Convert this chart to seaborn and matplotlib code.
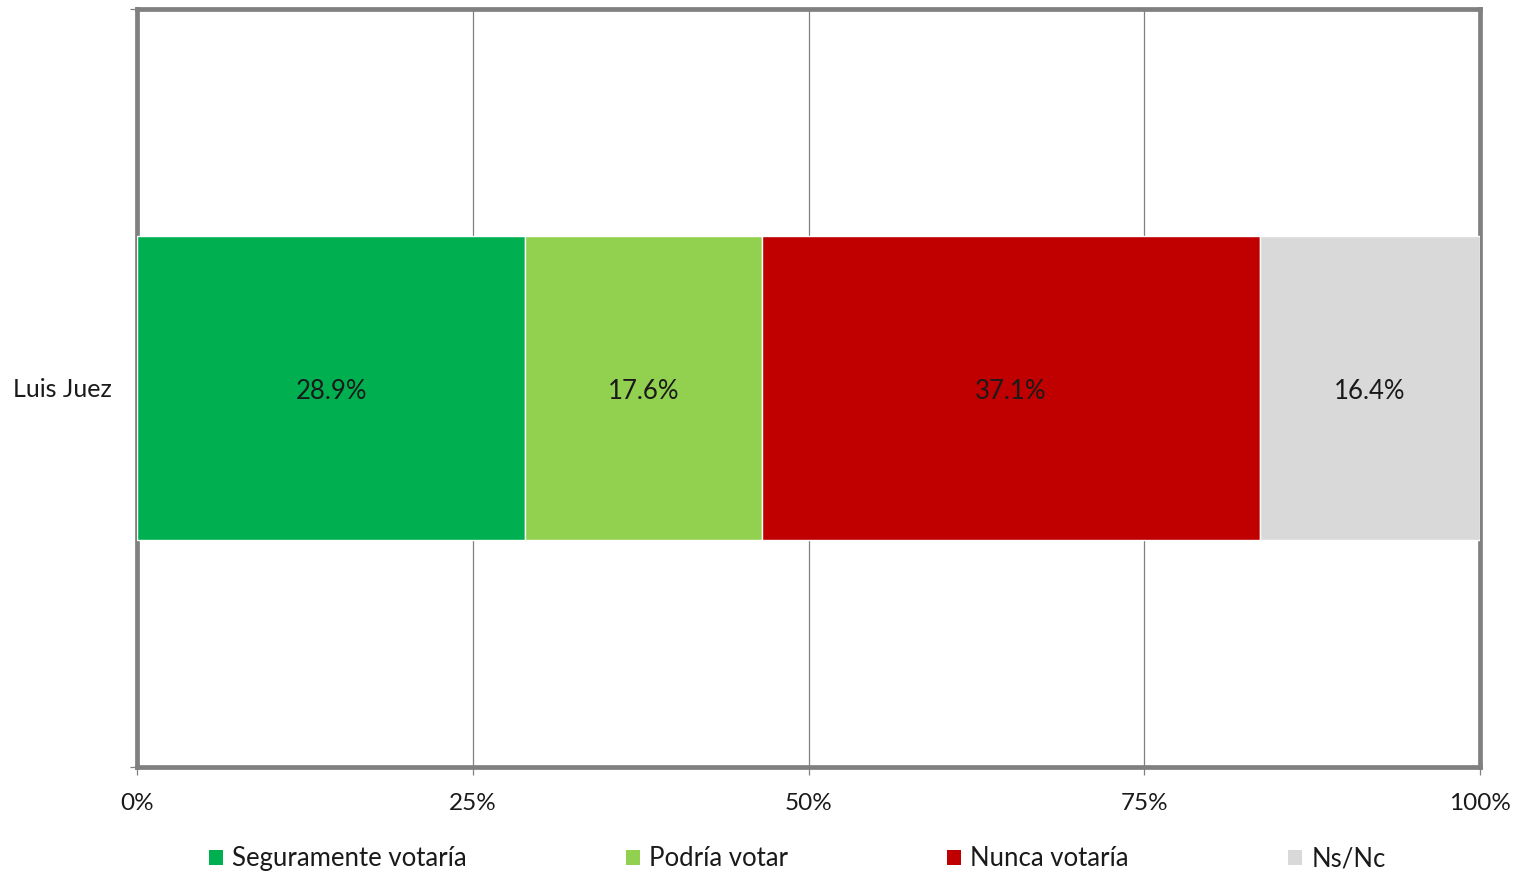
import matplotlib
matplotlib.use("Agg")
import matplotlib.pyplot as plt
import seaborn as sns
from matplotlib.patches import Patch
from matplotlib.ticker import FixedLocator, PercentFormatter

# ---- data ----
CANDIDATES = ["Luis Juez"]
SERIES = ["Seguramente votaría", "Podría votar", "Nunca votaría", "Ns/Nc"]
VALUES = [28.9, 17.6, 37.1, 16.4]
COLORS = ["#00B050", "#92D050", "#C00000", "#D9D9D9"]
X_TICKS = [0, 25, 50, 75, 100]

sns.set_theme(style="white")
plt.rcParams["font.family"] = ["Lato", "DejaVu Sans"]

FRAME = "#808080"
TEXT = "#1a1a1a"

fig = plt.figure(figsize=(15.26, 8.72), dpi=100)
ax = fig.add_axes([0.0898, 0.1204, 0.8801, 0.8693])

start = 0.0
for name, val, col in zip(SERIES, VALUES, COLORS):
    sns.barplot(
        x=[val],
        y=CANDIDATES,
        orient="h",
        color=col,
        left=start,
        width=0.4,
        saturation=1,
        edgecolor="white",
        linewidth=1,
        ax=ax,
        zorder=3,
    )
    ax.text(
        start + val / 2, 0.005, f"{val:.1f}%",
        ha="center", va="center", fontsize=18.5, color=TEXT, zorder=4,
    )
    start += val

ax.set_xlim(0, 100)
ax.set_ylim(0.5, -0.5)
ax.xaxis.set_major_locator(FixedLocator(X_TICKS))
ax.xaxis.set_major_formatter(PercentFormatter(decimals=0))
ax.grid(axis="x", color=FRAME, linewidth=0.9, zorder=0)
ax.grid(axis="y", visible=False)
ax.set_axisbelow(True)
ax.set_xlabel("")
ax.set_ylabel("")

for side in ["top", "right", "bottom", "left"]:
    ax.spines[side].set_visible(True)
    ax.spines[side].set_color(FRAME)
    ax.spines[side].set_linewidth(3.4)

ax.tick_params(axis="x", direction="out", length=6, width=0.9, color=FRAME,
               pad=13, labelsize=17.5, labelcolor=TEXT, bottom=True)
ax.tick_params(axis="y", length=0, pad=18, labelsize=18, labelcolor=TEXT)
ax.set_yticks([-0.5, 0.5], minor=True)
ax.tick_params(axis="y", which="minor", length=5, width=0.9, color=FRAME, left=True)

handles = [Patch(facecolor=c, edgecolor="none", label=s) for s, c in zip(SERIES, COLORS)]
fig.legend(
    handles=handles,
    loc="center",
    bbox_to_anchor=(0.5225, 0.015),
    ncol=4,
    frameon=False,
    fontsize=18.5,
    handlelength=0.55,
    handleheight=0.55,
    handletextpad=0.35,
    columnspacing=6.2,
    labelcolor=TEXT,
)

fig.savefig("out.png", dpi=100)
